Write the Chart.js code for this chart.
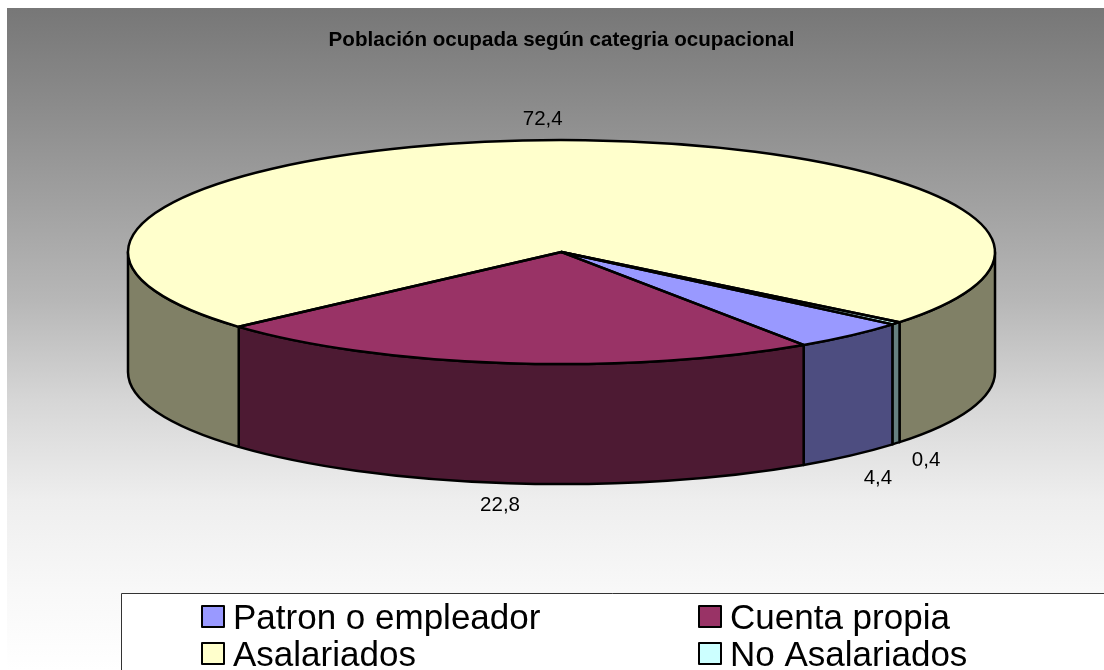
<!DOCTYPE html>
<html><head><meta charset="utf-8">
<style>html,body{margin:0;padding:0;background:#fff}canvas{display:block}</style>
<script src="https://cdn.jsdelivr.net/npm/chart.js@4"></script></head>
<body><div style="width:1104px;height:670px;position:relative"><canvas id="c" width="1104" height="670"></canvas></div>
<script>
const categories = ['Patron o empleador','Cuenta propia','Asalariados','No Asalariados'];
const values = [4.4,22.8,72.4,0.4];
const topColors = ['#9999FF','#993366','#FFFFCC','#CCFFFF'];
const wallColors = ['#4D4D80','#4D1A33','#808066','#668080'];
const chartTitle = 'Población ocupada según categria ocupacional';

const RX = 433.5, RY = 112, DEPTH = 120;
const labelNudge = [[27,23],[-8,22],[-7,-21],[30,17]];
const legendCells = [[201,605,233],[698,605,730],[201,642,233],[698,642,730]];
const gradientStops = [[8,119],[100,138],[200,160],[300,183],[400,214],[500,238],[590,248],[670,255]];

const pie3d = {
  id:'pie3d',
  beforeDraw(chart){
    const c = chart.ctx;
    const g = c.createLinearGradient(0,8,0,670);
    gradientStops.forEach(([y,v])=>g.addColorStop((y-8)/662,`rgb(${v},${v},${v})`));
    c.save(); c.fillStyle='#fff'; c.fillRect(0,0,1104,670);
    c.fillStyle=g; c.fillRect(7,8,1097,662); c.restore();
  },
  beforeDatasetsDraw(chart){
    const c = chart.ctx, arcs = chart.getDatasetMeta(0).data;
    const {x:cx,y:cy} = arcs[0];
    c.save();
    c.lineWidth = 2.5; c.strokeStyle='#000'; c.lineJoin='round';
    arcs.forEach((a,i)=>{
      const ranges = [[0,Math.PI],[2*Math.PI,3*Math.PI]];
      let s=a.startAngle, e=a.endAngle;
      while(s<0){s+=2*Math.PI;e+=2*Math.PI;}
      ranges.forEach(([lo,hi])=>{
        const p=Math.max(s,lo), q=Math.min(e,hi);
        if(q<=p) return;
        c.beginPath();
        c.ellipse(cx,cy,RX,RY,0,p,q);
        c.ellipse(cx,cy+DEPTH,RX,RY,0,q,p,true);
        c.closePath();
        c.fillStyle=wallColors[i]; c.fill(); c.stroke();
      });
    });
    c.restore();
    c.save();
    c.translate(cx,cy); c.scale(1,RY/RX); c.translate(-cx,-cy);
  },
  afterDatasetsDraw(chart){
    const c = chart.ctx; c.restore();
    const arcs = chart.getDatasetMeta(0).data;
    const {x:cx,y:cy} = arcs[0];
    c.save();
    c.lineWidth=2.5; c.strokeStyle='#000'; c.lineJoin='round';
    arcs.forEach(a=>{
      c.beginPath();
      c.moveTo(cx,cy);
      c.ellipse(cx,cy,RX,RY,0,a.startAngle,a.endAngle);
      c.closePath(); c.stroke();
    });
    c.fillStyle='#000'; c.font='20.5px "Liberation Sans"'; c.textAlign='center'; c.textBaseline='middle';
    arcs.forEach((a,i)=>{
      const m=(a.startAngle+a.endAngle)/2, sn=Math.sin(m);
      const x=cx+RX*Math.cos(m)+labelNudge[i][0];
      const y=cy+RY*sn+(sn>0?DEPTH:0)+labelNudge[i][1];
      c.fillText(String(values[i]).replace('.',','),x,y);
    });
    // legend
    c.fillStyle='#fff'; c.strokeStyle='#333'; c.lineWidth=1;
    c.fillRect(121,593,983,77);
    c.beginPath(); c.moveTo(121.5,670); c.lineTo(121.5,593.5); c.lineTo(1104,593.5); c.stroke();
    c.font='35px "Liberation Sans"'; c.textAlign='left'; c.textBaseline='alphabetic';
    categories.forEach((t,i)=>{
      const [sx,sy,tx]=legendCells[i];
      c.fillStyle=topColors[i]; c.fillRect(sx+1,sy+1,22,21);
      c.strokeStyle='#000'; c.lineWidth=2; c.strokeRect(sx+1,sy+1,22,21);
      c.fillStyle='#000'; c.fillText(t,tx,sy+24);
    });
    c.restore();
  }
};

new Chart(document.getElementById('c'),{
  type:'pie',
  data:{labels:categories,datasets:[{data:values,backgroundColor:topColors,borderWidth:0,radius:RX}]},
  options:{
    responsive:false,animation:false,
    rotation:130.2,
    layout:{padding:{left:19,right:0,top:0,bottom:218.6}},
    plugins:{
      legend:{display:false},tooltip:{enabled:false},
      title:{display:true,fullSize:false,text:chartTitle,color:'#000',font:{family:'"Liberation Sans"',size:20.6,weight:'bold',lineHeight:1.2},position:'top',padding:{top:28,bottom:0}}
    }
  },
  plugins:[pie3d]
});
</script></body></html>
